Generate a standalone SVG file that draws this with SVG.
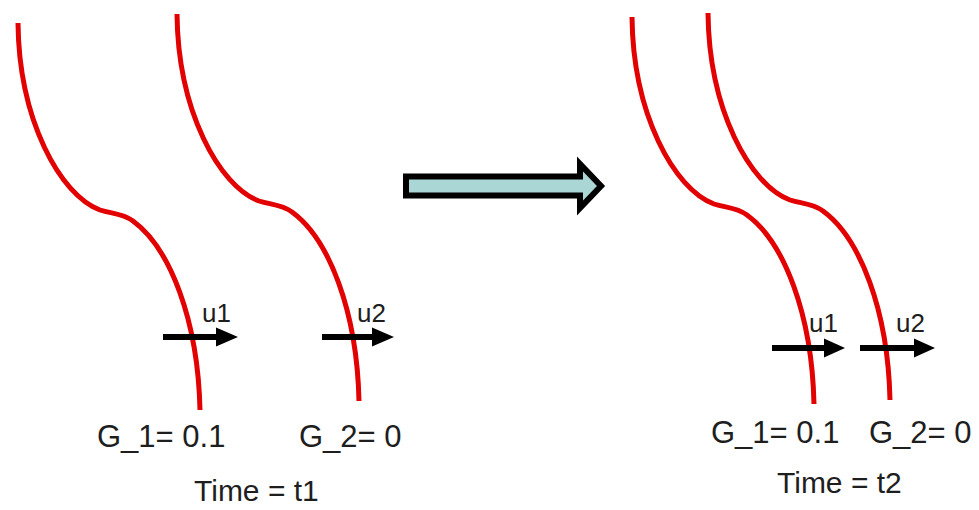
<svg xmlns="http://www.w3.org/2000/svg" width="979" height="510" viewBox="0 0 979 510">
  <defs>
    <style>
      .front { fill: none; stroke: #e30000; stroke-width: 5; stroke-linecap: butt; }
      .shaft { stroke: #000; stroke-width: 6; fill: none; }
      .head { fill: #000; }
      .lbl { font-family: "Liberation Sans", Arial, sans-serif; fill: #1e1e1e; }
      .u { font-size: 26px; }
      .g { font-size: 31px; }
      .t { font-size: 30px; }
    </style>
    <path id="front" class="front" d="M18,23 C19,120 60,195 100,210 C112,214 122,213 133,221 C170,248 198,320 200,410"/>
  </defs>
  <rect width="979" height="510" fill="#fff"/>

  <!-- Left state: Time = t1 -->
  <g id="front1_t1"><use href="#front"/></g>
  <g id="front2_t1"><use href="#front" transform="translate(159,-9)"/></g>

  <!-- Right state: Time = t2 -->
  <g id="front1_t2"><use href="#front" transform="translate(614,-6)"/></g>
  <g id="front2_t2"><use href="#front" transform="translate(690,-10)"/></g>

  <g id="connectors">
    <g id="u1_t1">
      <line class="shaft" x1="163" y1="337" x2="220" y2="337"/>
      <polygon class="head" points="216,327.5 238,337 216,346.5"/>
    </g>
    <g id="u2_t1">
      <line class="shaft" x1="322" y1="337" x2="376" y2="337"/>
      <polygon class="head" points="372,327.5 394,337 372,346.5"/>
    </g>
    <g id="u1_t2">
      <line class="shaft" x1="772" y1="348" x2="828" y2="348"/>
      <polygon class="head" points="824,338.5 845,348 824,357.5"/>
    </g>
    <g id="u2_t2">
      <line class="shaft" x1="860" y1="348" x2="918" y2="348"/>
      <polygon class="head" points="914,338.5 935,348 914,357.5"/>
    </g>
    <g id="time_arrow">
      <path d="M406,176.5 H580 V164 L601,186 L580,208 V195.5 H406 Z" fill="#abd6d6" stroke="#000" stroke-width="6" stroke-linejoin="miter"/>
    </g>
  </g>

  <g id="labels_t1">
    <text class="lbl u" x="202" y="322">u1</text>
    <text class="lbl u" x="357" y="322">u2</text>
    <text class="lbl g" x="97" y="447">G_1= 0.1</text>
    <text class="lbl g" x="299" y="447">G_2= 0</text>
    <text class="lbl t" x="194" y="501">Time = t1</text>
  </g>
  <g id="labels_t2">
    <text class="lbl u" x="809" y="332">u1</text>
    <text class="lbl u" x="896" y="332">u2</text>
    <text class="lbl g" x="711" y="443">G_1= 0.1</text>
    <text class="lbl g" x="869" y="443">G_2= 0</text>
    <text class="lbl t" x="777" y="493">Time = t2</text>
  </g>
</svg>
